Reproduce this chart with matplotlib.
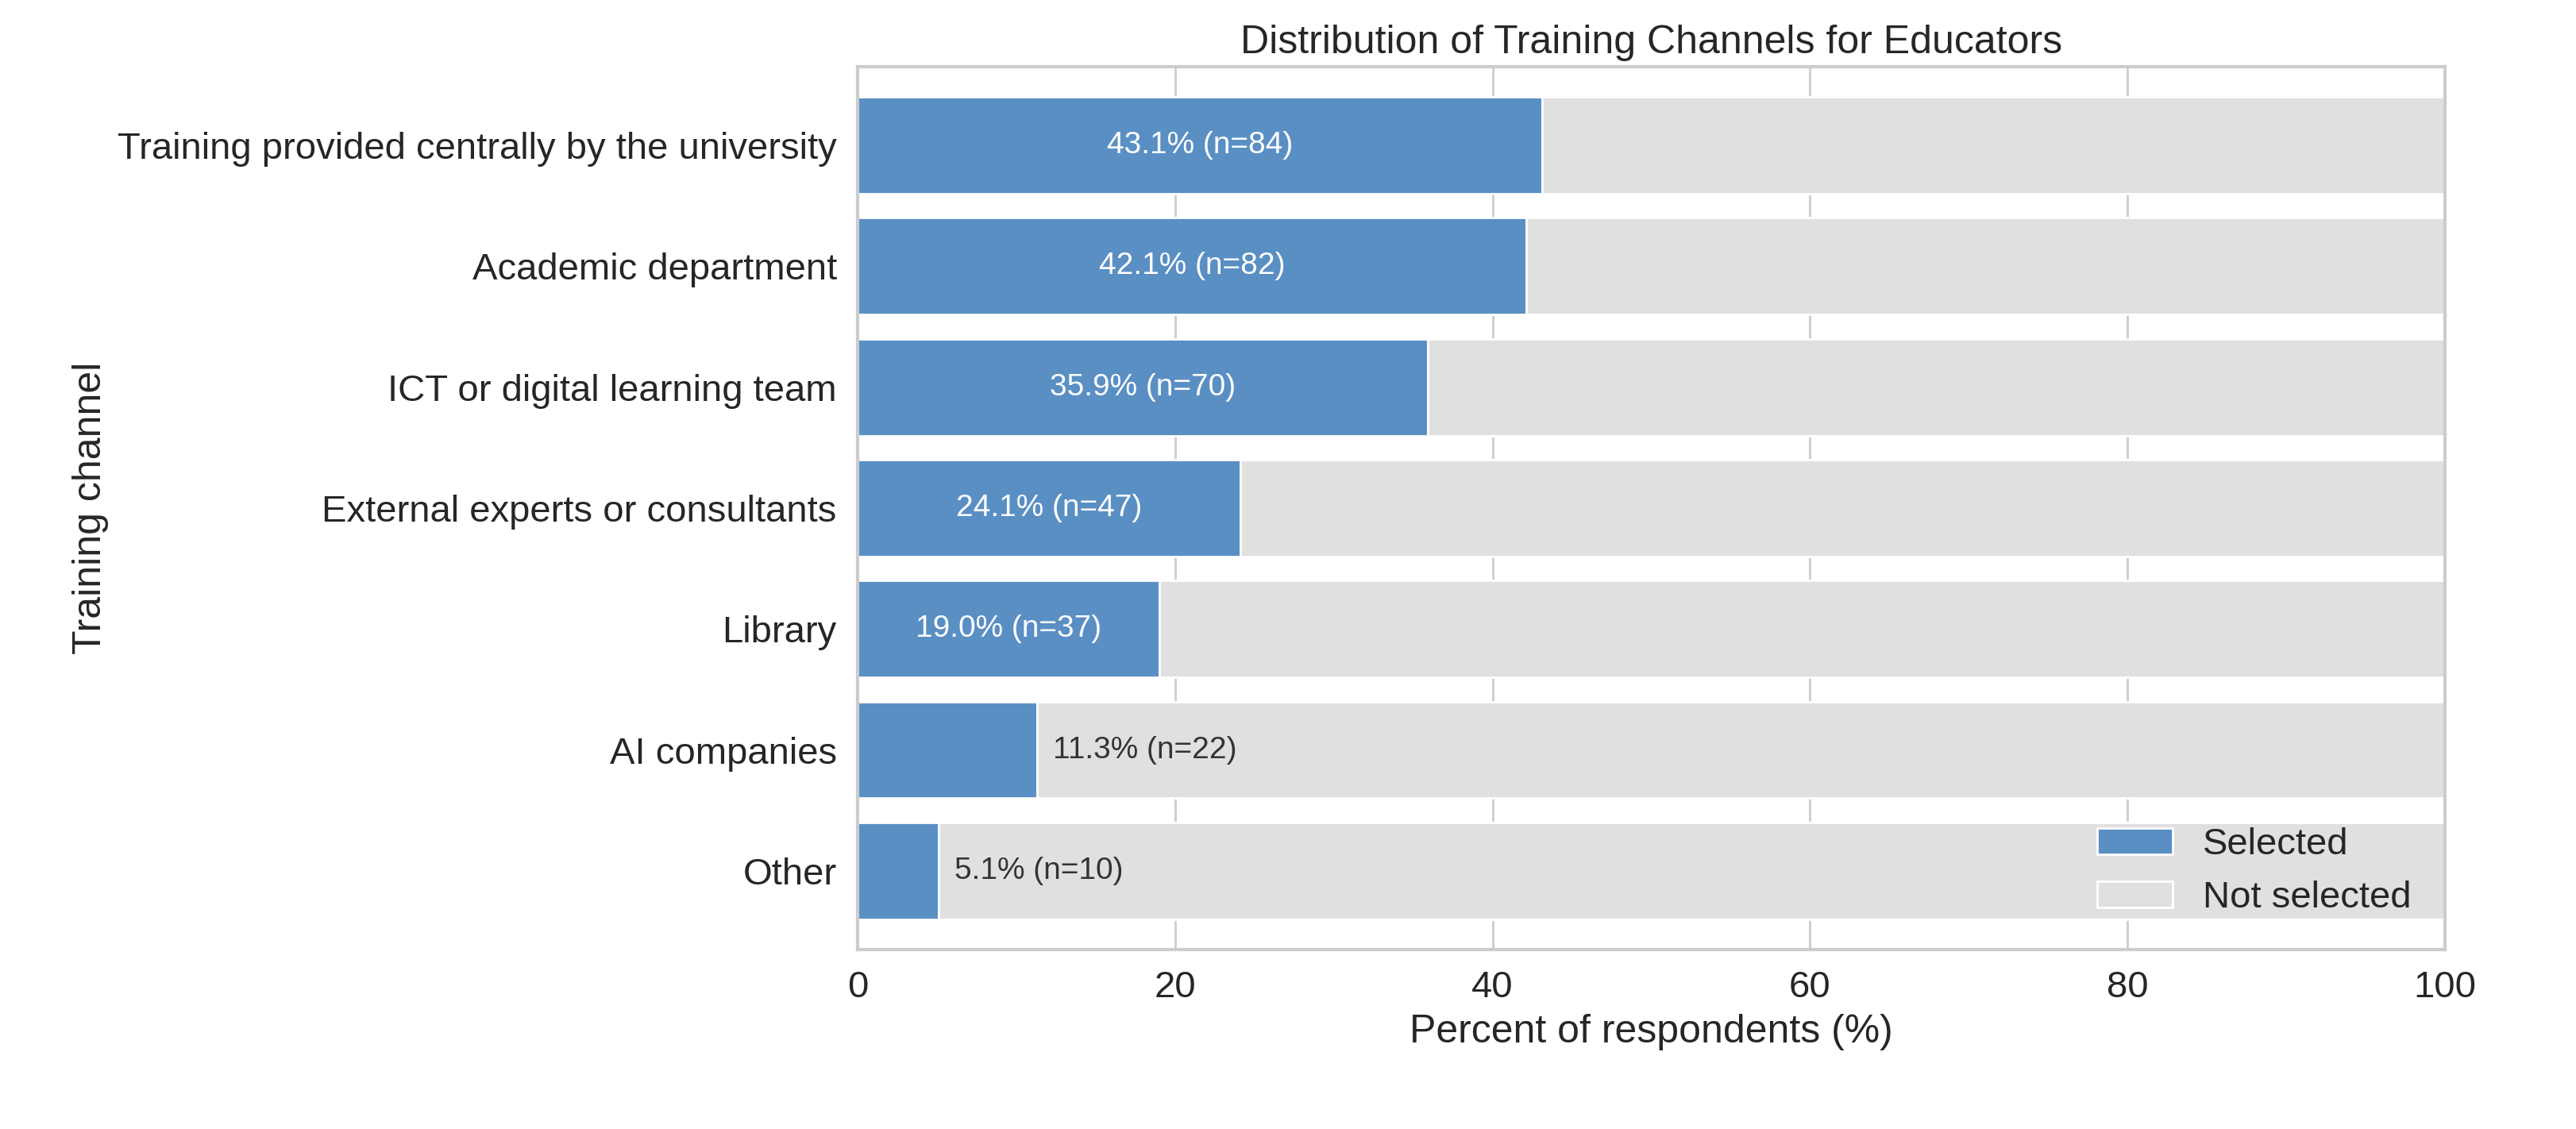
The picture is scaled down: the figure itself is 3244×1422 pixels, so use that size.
import matplotlib
matplotlib.use('Agg')
import matplotlib.pyplot as plt
import seaborn as sns

channels = ['Training provided centrally by the university', 'Academic department',
            'ICT or digital learning team', 'External experts or consultants',
            'Library', 'AI companies', 'Other']
pct = [43.1, 42.1, 35.9, 24.1, 19.0, 11.3, 5.1]
counts = [84, 82, 70, 47, 37, 22, 10]

sns.set_theme(style='whitegrid')
plt.rcParams['font.family'] = ['Liberation Sans', 'DejaVu Sans']

fig = plt.figure(figsize=(16.22, 7.11), dpi=200)
ax = fig.add_axes([0.333, 0.159, 0.616, 0.782])

y = list(range(len(channels)))[::-1]
rest = [100 - p for p in pct]
ax.barh(y, pct, height=0.8, color='#5a8fc4', edgecolor='white', linewidth=1, label='Selected')
ax.barh(y, rest, left=pct, height=0.8, color='#e0e0e0', edgecolor='white', linewidth=1, label='Not selected')

for yi, p, n in zip(y, pct, counts):
    txt = f'{p:.1f}% (n={n})'
    if p > 15:
        ax.text(p / 2, yi, txt, ha='center', va='center', color='white', fontsize=14)
    else:
        ax.text(p + 1, yi, txt, ha='left', va='center', color='#333333', fontsize=14)

ax.set_yticks(y)
ax.set_yticklabels(channels, fontsize=17)
ax.set_xlim(0, 100)
ax.set_ylim(-0.65, 6.65)
ax.tick_params(axis='x', labelsize=17)
ax.grid(axis='y', visible=False)
ax.set_xlabel('Percent of respondents (%)', fontsize=18)
ax.set_ylabel('Training channel', fontsize=18)
ax.set_title('Distribution of Training Channels for Educators', fontsize=18)
for s in ax.spines.values():
    s.set_color('#cccccc')
    s.set_linewidth(1.5)
ax.legend(loc='lower right', frameon=False, fontsize=17)

fig.savefig('out.png', dpi=200)
